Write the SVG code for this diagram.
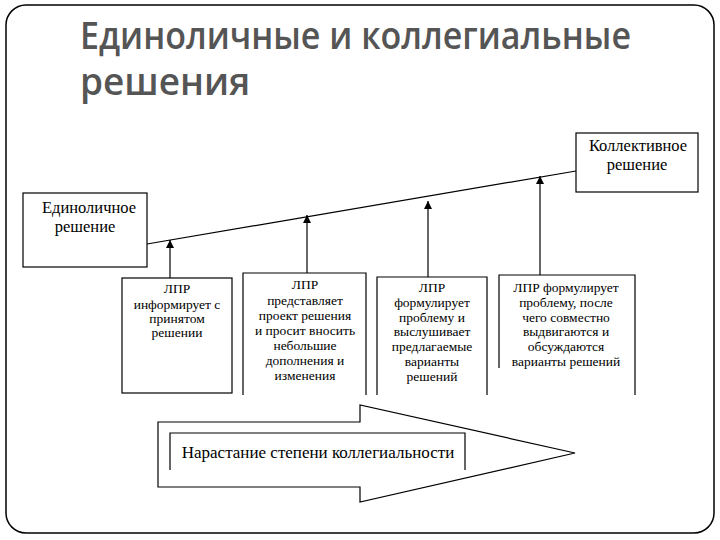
<svg xmlns="http://www.w3.org/2000/svg" width="720" height="540" viewBox="0 0 720 540">
<defs>
<style>
.title{font-family:"Open Sans","Noto Sans",sans-serif;font-weight:600;font-size:37px;fill:#555555}
.t{font-family:"Liberation Serif","DejaVu Serif",serif;fill:#000;text-anchor:middle}
.s{font-size:13.5px}
.m{font-size:16.5px}
.b{font-size:17px}
.box{fill:#fff;stroke:#000;stroke-width:1.2}
.ln{fill:none;stroke:#000;stroke-width:1.2}
</style>
<marker id="ah" viewBox="0 0 10 10" refX="10" refY="5" markerWidth="8" markerHeight="8" markerUnits="userSpaceOnUse" orient="auto">
<path d="M0,0 L10,5 L0,10 Z" fill="#000"/>
</marker>
</defs>
<rect x="6" y="5" width="708" height="528" rx="20" ry="20" fill="#fff" stroke="#000" stroke-width="1.5"/>
<g id="title">
<text class="title" x="80" y="49" textLength="551" lengthAdjust="spacingAndGlyphs">Единоличные и коллегиальные</text>
<text class="title" x="80" y="95">решения</text>
</g>
<g id="connectors">
<line class="ln" x1="147" y1="244" x2="576" y2="171"/>
<line class="ln" x1="170" y1="278" x2="170" y2="240" marker-end="url(#ah)"/>
<line class="ln" x1="307" y1="273" x2="307" y2="215" marker-end="url(#ah)"/>
<line class="ln" x1="428" y1="277" x2="428" y2="201" marker-end="url(#ah)"/>
<line class="ln" x1="540" y1="275" x2="540" y2="176" marker-end="url(#ah)"/>
</g>
<g id="n-single">
<rect class="box" x="23" y="193" width="124" height="74"/>
<text class="t m" x="89" y="213">Единоличное</text>
<text class="t m" x="85" y="232">решение</text>
</g>
<g id="n-collective">
<rect class="box" x="576" y="133" width="122" height="59"/>
<text class="t m" x="638" y="151">Коллективное</text>
<text class="t m" x="637" y="170">решение</text>
</g>
<g id="n-b1">
<rect class="box" x="122" y="278" width="110" height="115"/>
<g class="t s">
<text x="177" y="293">ЛПР</text>
<text x="177" y="309">информирует с</text>
<text x="177" y="323">принятом</text>
<text x="177" y="337">решении</text>
</g>
</g>
<g id="n-b2">
<path class="ln" d="M243,395 V273 H366 V395"/>
<g class="t s">
<text x="305" y="289">ЛПР</text>
<text x="305" y="305">представляет</text>
<text x="305" y="320">проект решения</text>
<text x="305" y="335">и просит вносить</text>
<text x="305" y="350">небольшие</text>
<text x="305" y="365">дополнения и</text>
<text x="305" y="380">изменения</text>
</g>
</g>
<g id="n-b3">
<path class="ln" d="M377,395 V277 H487 V395"/>
<g class="t s">
<text x="432" y="292">ЛПР</text>
<text x="432" y="307">формулирует</text>
<text x="432" y="322">проблему и</text>
<text x="432" y="336">выслушивает</text>
<text x="432" y="351">предлагаемые</text>
<text x="432" y="366">варианты</text>
<text x="432" y="381">решений</text>
</g>
</g>
<g id="n-b4">
<path class="ln" d="M499,368 V275 H635 V395"/>
<g class="t s">
<text x="566" y="292">ЛПР формулирует</text>
<text x="566" y="307">проблему, после</text>
<text x="566" y="322">чего совместно</text>
<text x="566" y="336">выдвигаются и</text>
<text x="566" y="351">обсуждаются</text>
<text x="566" y="366">варианты решений</text>
</g>
</g>
<g id="n-arrow">
<path d="M158,422 H360 V405 L575,453 L360,502 V487 H158 Z" fill="#fff" stroke="#000" stroke-width="1.2"/>
<path class="ln" d="M170,470 V433 H465 V470"/>
<text class="t b" x="318" y="458">Нарастание степени коллегиальности</text>
</g>
</svg>
